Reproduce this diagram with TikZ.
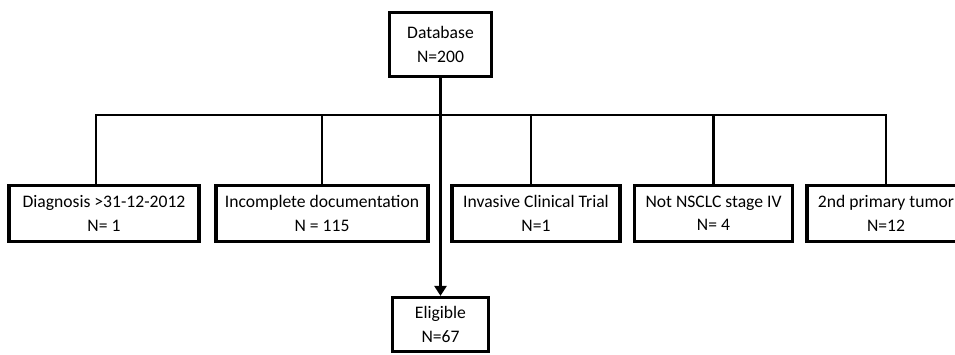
\documentclass[tikz,border=0pt]{standalone}
\usepackage{fontspec}
\setmainfont{Carlito}
\usetikzlibrary{arrows.meta}

\begin{document}
\begin{tikzpicture}[x=0.75pt,y=-0.75pt,
  box/.style={draw,line width=2.4pt,align=center,inner sep=0pt,minimum height=42pt,
    font=\fontsize{13.2}{17.5}\selectfont},
  link/.style={line width=1.6pt}]
  \useasboundingbox (0,0) rectangle (955,354);
  \node[box,minimum width=76.5pt,minimum height=48pt] (db) at (440.5,44.5) {Database\\N=200};
  \node[box,minimum width=142.5pt] (b1) at (104,213.5) {Diagnosis >31-12-2012\\N= 1};
  \node[box,minimum width=159pt] (b2) at (322,213.5) {Incomplete documentation\\N = 115};
  \node[box,minimum width=126pt] (b3) at (536,213.5) {Invasive Clinical Trial\\N=1};
  \node[box,minimum width=119pt] (b4) at (713.5,213.5) {Not NSCLC stage IV\\N= 4};
  \node[box,minimum width=118.5pt] (b5) at (886,213.5) {2nd primary tumor\\N=12};
  \node[box,minimum width=72pt,minimum height=40.5pt] (el) at (440.5,324.5) {Eligible\\N=67};
  \coordinate (split) at (440.5,115);
  \draw[link] ([xshift=-6pt]b1.north) |- (split) -| (b5.north);
  \draw[link] ([xshift=-4pt]b3.north) -- ([xshift=-4pt]b3.north |- split);
  \foreach \b in {b2,b4}
    \draw[link] (\b.north) -- (\b.north |- split);
  \draw[line width=2.4pt,-{Triangle[length=7.5pt,width=9pt]}] (db) -- (el);
\end{tikzpicture}
\end{document}
